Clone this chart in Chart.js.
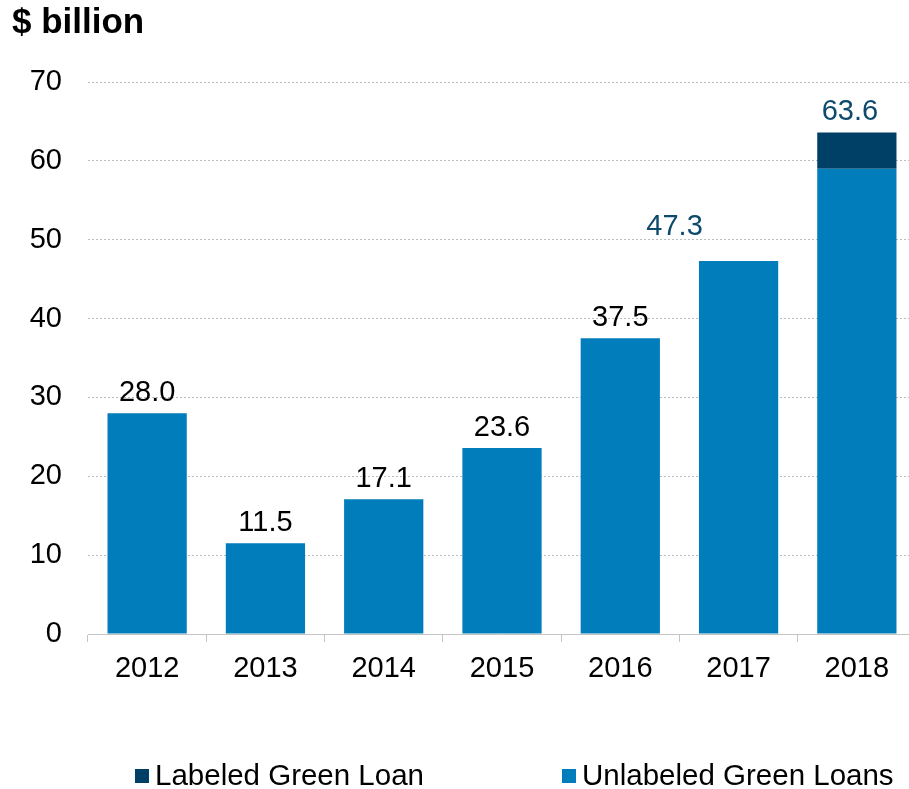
<!DOCTYPE html>
<html>
<head>
<meta charset="utf-8">
<script src="https://cdn.jsdelivr.net/npm/chart.js@4"></script>
<style>
  body { margin: 0; overflow: hidden; background: #fff; }
  #wrap { position: relative; width: 925px; height: 789px; }
  .leg { position: absolute; top: 758px; font: 29.5px 'Liberation Sans', Arial, sans-serif; color: #000; white-space: nowrap; }
  .leg i { display: inline-block; width: 14px; height: 14px; margin-right: 6px; vertical-align: 2px; }
</style>
</head>
<body>
<div id="wrap">
  <canvas id="greenLoanChart"></canvas>
  <div class="leg" style="left:135px"><i style="background:#003f66"></i>Labeled Green Loan</div>
  <div class="leg" style="left:562px"><i style="background:#007dba"></i>Unlabeled Green Loans</div>
</div>
<script>
// Green loan volumes, $ billion
const years = ['2012', '2013', '2014', '2015', '2016', '2017', '2018'];
const unlabeled = [28.0, 11.5, 17.1, 23.6, 37.5, 47.3, 59.0];
const labeled = [0, 0, 0, 0, 0, 0, 4.6];
const totals = [28.0, 11.5, 17.1, 23.6, 37.5, 47.3, 63.6];

Chart.defaults.font.family = "'Liberation Sans', Arial, sans-serif";
Chart.defaults.color = '#000000';

// total labels above the bars
const totalLabels = {
  id: 'totalLabels',
  afterDatasetsDraw(chart) {
    const c = chart.ctx;
    const meta = chart.getDatasetMeta(0);
    const y = chart.scales.y;
    c.save();
    c.font = '29px ' + Chart.defaults.font.family;
    c.textAlign = 'center';
    c.textBaseline = 'alphabetic';
    totals.forEach(function(v, i) {
      let dx = 0, dy = 12;
      if (i === 5) { dx = -64; dy = 26; }
      if (i === 6) { dx = -7; }
      c.fillStyle = i >= 5 ? '#0d4a6e' : '#000000';
      c.fillText(v.toFixed(1), meta.data[i].x + dx, y.getPixelForValue(v) - dy);
    });
    c.restore();
  }
};

const ctx = document.getElementById('greenLoanChart');

new Chart(ctx, {
type: 'bar',
data: {
   labels: years,
   datasets: [{
     label: 'Unlabeled Green Loans',
     data: unlabeled,
     backgroundColor: '#007dba',
     barPercentage: 0.67,
     categoryPercentage: 1
   }, {
     label: 'Labeled Green Loan',
     data: labeled,
     backgroundColor: '#003f66',
     barPercentage: 0.67,
     categoryPercentage: 1
   }]
},
options: {
   responsive: true,
   maintainAspectRatio: false,
   animation: false,
   layout: {
       padding: { left: 12, right: 9, top: 0, bottom: 95 }
   },
   plugins: {
       legend: { display: false },
       tooltip: { enabled: false },
       title: {
           display: true,
           text: '$ billion',
           align: 'start',
           color: '#000000',
           font: { size: 35, weight: 'bold' },
           padding: { top: 2, bottom: 38 }
       }
   },
   scales: {
       x: {
           stacked: true,
           grid: {
               drawOnChartArea: false,
               tickLength: 8,
               color: '#c4c4c4'
           },
           border: { color: '#c4c4c4', width: 1 },
           ticks: {
               color: '#000000',
               padding: 10,
               font: { size: 29 }
           },
           afterFit(scale) { scale.height = 60; }
       },
       y: {
           stacked: true,
           min: 0,
           max: 70,
           border: { display: false, dash: [2, 2] },
           ticks: {
               stepSize: 10,
               color: '#000000',
               padding: 26,
               font: { size: 29 }
           },
           grid: {
               drawTicks: false,
               lineWidth: 1,
               color: function(context) {
                   if (context.tick.value === 0) {
                       return 'rgba(0,0,0,0)'
                   } else {
                       return '#bcbcbc'
                   }
               }
           },
           afterFit(scale) { scale.width = 76; }
       }
   }
},
plugins: [totalLabels]
});
</script>
</body>
</html>
